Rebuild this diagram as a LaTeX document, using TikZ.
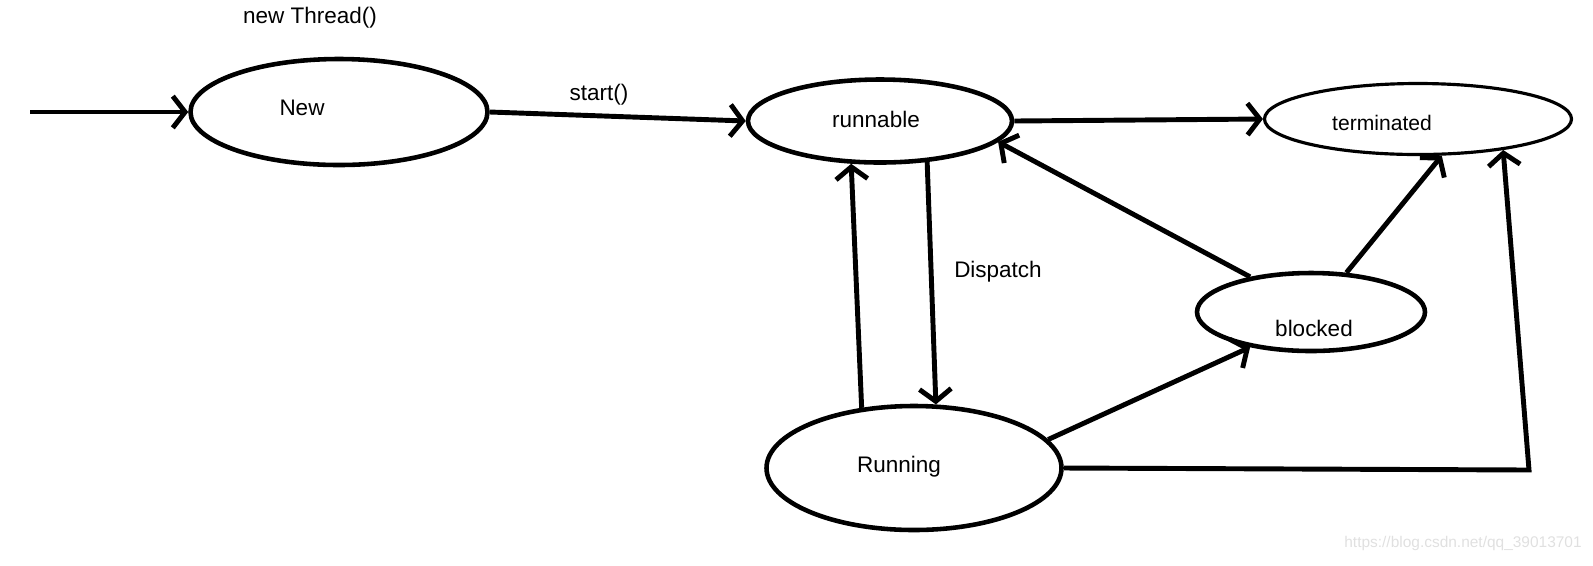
\documentclass[tikz,border=0pt]{standalone}
\usepackage{fontspec}
\setmainfont{Liberation Sans}
\usepackage{tikz}
\usetikzlibrary{arrows,arrows.meta,positioning}
\usetikzlibrary{shapes.geometric}
\tikzstyle{arrow} = [line width=1.4pt,-{Straight Barb[length=3.5pt,width=9pt]}]
\tikzstyle{threadstate} = [draw, ellipse, line width=1.3pt, inner sep=0pt]
\tikzstyle{statetext} = [font=\fontsize{6.4}{7.5}\selectfont]

\begin{document}
\begin{tikzpicture}
            \useasboundingbox (0,0) rectangle (15.93,-5.65);
            % states
            \node[threadstate, minimum width=2.97cm, minimum height=1.06cm] (New) at (3.39,-1.12) {};
            \node[threadstate, minimum width=2.64cm, minimum height=0.83cm] (runnable) at (8.80,-1.21) {};
            \node[threadstate, line width=0.9pt, minimum width=3.07cm, minimum height=0.71cm] (terminated) at (14.18,-1.19) {};
            \node[threadstate, minimum width=2.95cm, minimum height=1.24cm] (Running) at (9.14,-4.68) {};
            \node[threadstate, minimum width=2.28cm, minimum height=0.78cm] (blocked) at (13.11,-3.12) {};
            \node[statetext] (newtxt) at (3.02,-1.08) {New};
            \node[statetext] (runnabletxt) at (8.76,-1.19) {runnable};
            \node[statetext, font=\fontsize{6}{7}\selectfont] (terminatedtxt) at (13.82,-1.23) {terminated};
            \node[statetext] (runningtxt) at (8.99,-4.67) {Running};
            \node[statetext] (blockedtxt) at (13.14,-3.28) {blocked};
            % labels
            \node[statetext] (newthread) at (3.10,-0.18) {new Thread()};
            \node[statetext] (startlbl) at (5.99,-0.95) {start()};
            \node[statetext] (dispatchlbl) at (9.98,-2.72) {Dispatch};
            \node[font=\fontsize{4.4}{5}\selectfont, text=black!12] (watermark) at (14.63,-5.43) {https://blog.csdn.net/qq\_39013701};
            % transitions
            \coordinate (start) at (0.30,-1.12);
            \coordinate (corner) at (15.29,-4.70);
            \draw[arrow] (start) -- (New.west);
            \draw[arrow] (New.east) -- (runnable.west);
            \draw[arrow] (runnable.east) -- (terminated.west);
            \draw[arrow] (Running.131) -- (runnable.236);
            \draw[arrow] (runnable.-41) -- (Running.71);
            \draw[arrow] (Running.12) -- (blocked.210);
            \draw[arrow] (blocked.150) -- (runnable.-10);
            \draw[arrow] (blocked.48) -- (terminated.-57);
            \draw[arrow] (Running.east) -- (corner) -- (terminated.-20);
        \end{tikzpicture}
\end{document}
